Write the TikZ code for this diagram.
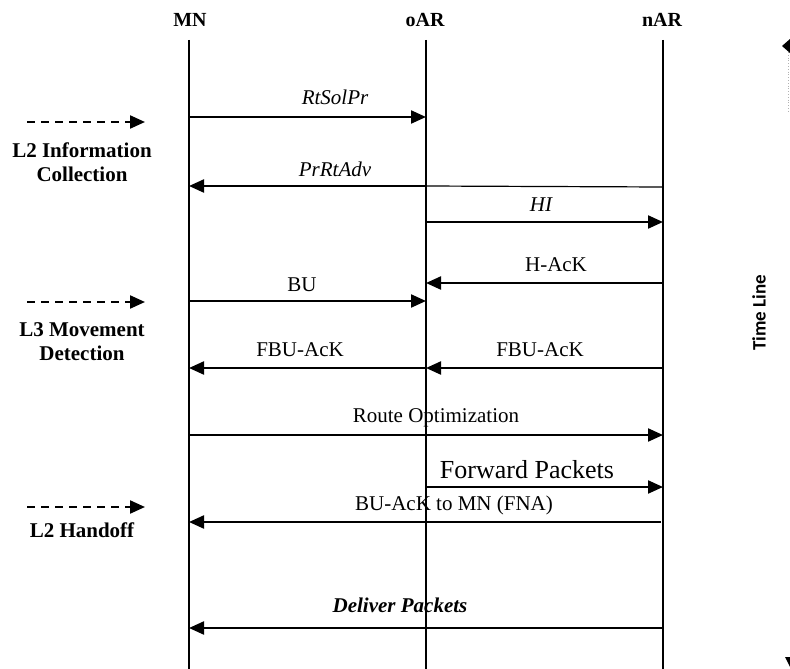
\documentclass[tikz,border=0pt]{standalone}
\usepackage{fontspec}
\setmainfont{Liberation Serif}
\newfontfamily\calib{Carlito}
\usetikzlibrary{arrows.meta}
\tikzset{
  life/.style={line width=1.6pt},
  msg/.style={line width=2.2pt,-{Triangle[length=15pt,width=13pt]}},
  thinmsg/.style={line width=1.2pt},
  lbl/.style={font=\fontsize{21}{24}\selectfont,inner sep=1pt},
  hdr/.style={font=\fontsize{20}{24}\selectfont\bfseries},
  side/.style={font=\fontsize{21}{24}\selectfont\bfseries,align=center},
  dasharrow/.style={line width=2.2pt,dash pattern=on 8pt off 6pt,-{Triangle[length=15pt,width=13pt]}}
}
\begin{document}
\begin{tikzpicture}[x=1pt,y=-1pt]
\useasboundingbox (0,0) rectangle (790,669);
% headers
\node[hdr] (hMN) at (190,20) {MN};
\node[hdr] (hoAR) at (425,20) {oAR};
\node[hdr] (hnAR) at (662,20) {nAR};
% lifelines
\coordinate (MNt) at (189,40); \coordinate (MNb) at (189,669);
\coordinate (oARt) at (426,40); \coordinate (oARb) at (426,669);
\coordinate (nARt) at (663,40); \coordinate (nARb) at (663,669);
\draw[life] (MNt) -- (MNb);
\draw[life] (oARt) -- (oARb);
\draw[life] (nARt) -- (nARb);
% message endpoints
\coordinate (m1a) at (189,117); \coordinate (m1b) at (426,117);
\coordinate (m2a) at (426,186); \coordinate (m2b) at (189,186); \coordinate (m2c) at (663,187);
\coordinate (m3a) at (426,222); \coordinate (m3b) at (663,222);
\coordinate (m4a) at (663,283); \coordinate (m4b) at (426,283);
\coordinate (m5a) at (189,301); \coordinate (m5b) at (426,301);
\coordinate (m6a) at (426,368); \coordinate (m6b) at (189,368);
\coordinate (m7a) at (663,368); \coordinate (m7b) at (426,368);
\coordinate (m8a) at (189,435); \coordinate (m8b) at (663,435);
\coordinate (m9a) at (426,487); \coordinate (m9b) at (663,487);
\coordinate (m10a) at (661,522); \coordinate (m10b) at (189,522);
\coordinate (m11a) at (663,628); \coordinate (m11b) at (189,628);
\draw[msg] (m1a) -- (m1b);
\draw[thinmsg] (m2c) -- (m2a);
\draw[msg] (m2a) -- (m2b);
\draw[msg] (m3a) -- (m3b);
\draw[msg] (m4a) -- (m4b);
\draw[msg] (m5a) -- (m5b);
\draw[msg] (m6a) -- (m6b);
\draw[msg] (m7a) -- (m7b);
\draw[msg] (m8a) -- (m8b);
\draw[msg] (m9a) -- (m9b);
\draw[msg] (m10a) -- (m10b);
\draw[msg] (m11a) -- (m11b);
% labels
\node[lbl] (l1) at (335,97) {\itshape RtSolPr};
\node[lbl] (l2) at (335,169) {\itshape PrRtAdv};
\node[lbl] (l3) at (541,205) {\itshape HI};
\node[lbl] (l4) at (556,265) {H-AcK};
\node[lbl] (l5) at (302,285) {BU};
\node[lbl] (l6) at (300,350) {FBU-AcK};
\node[lbl] (l7) at (540,350) {FBU-AcK};
\node[lbl] (l8) at (436,418) {Route Optimization};
\node[font=\fontsize{26}{30}\selectfont,inner sep=1pt] (l9) at (527,470) {Forward Packets};
\node[lbl] (l10) at (454,505) {BU-AcK to MN (FNA)};
\node[lbl] (l11) at (400,605) {\bfseries\itshape Deliver Packets};
% left side
\coordinate (d1a) at (27,122); \coordinate (d1b) at (145,122);
\coordinate (d2a) at (27,302); \coordinate (d2b) at (145,302);
\coordinate (d3a) at (27,507); \coordinate (d3b) at (145,507);
\draw[dasharrow] (d1a) -- (d1b);
\draw[dasharrow] (d2a) -- (d2b);
\draw[dasharrow] (d3a) -- (d3b);
\node[side] (s1) at (82,162) {L2 Information\\Collection};
\node[side] (s2) at (82,342) {L3 Movement\\Detection};
\node[side] (s3) at (82,530) {L2 Handoff};
% time line
\node[font=\calib\fontsize{19}{22}\selectfont\bfseries,rotate=90] (tl) at (759,313) {Time Line};
\coordinate (tt) at (788,52); \coordinate (tb) at (788,112);
\draw[gray!60,dotted,line width=0.8pt] (tt) -- (tb);
\fill (782,46) -- (790,39) -- (790,53) -- cycle;
\fill (785,657) -- (790,657) -- (790,667) -- cycle;
\end{tikzpicture}
\end{document}
